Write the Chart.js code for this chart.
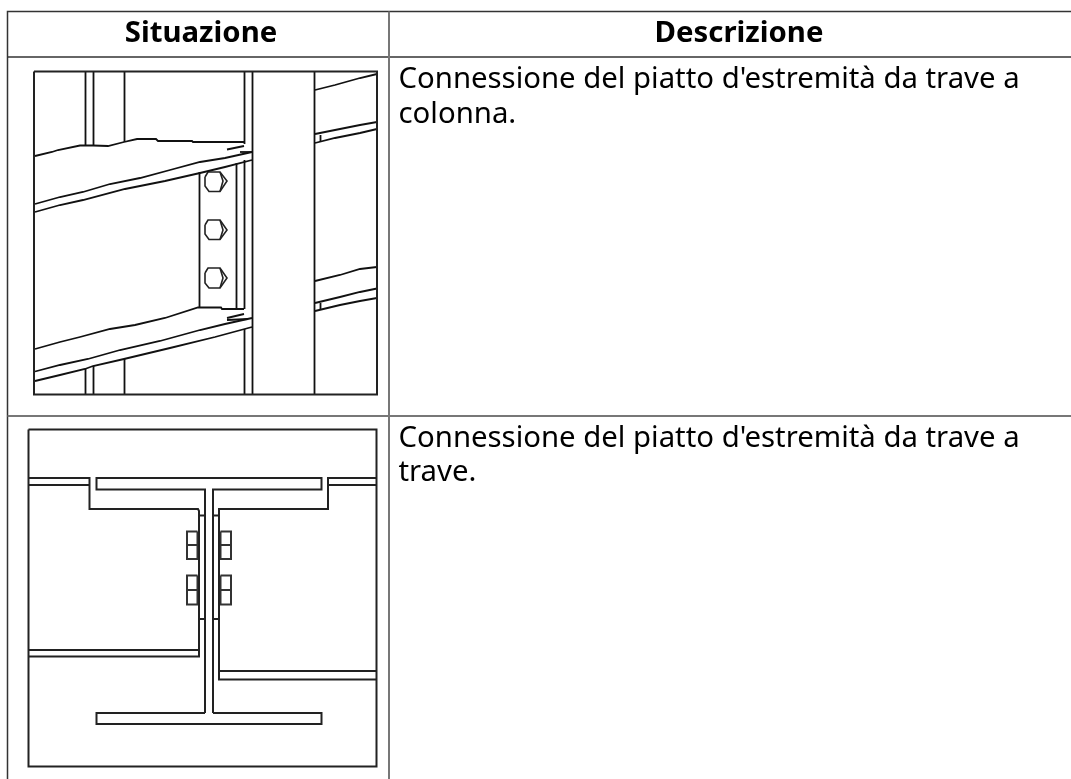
<!DOCTYPE html>
<html><head><meta charset="utf-8">
<style>html,body{margin:0;padding:0;background:#fff}#w{width:1071px;height:779px;position:relative}</style>
<script src="https://cdn.jsdelivr.net/npm/chart.js@4"></script></head>
<body><div id="w"><canvas id="c"></canvas></div>
<script>
// Table text
const headers = ["Situazione", "Descrizione"];
const row1Lines = ["Connessione del piatto d'estremità da trave a", "colonna."];
const row2Lines = ["Connessione del piatto d'estremità da trave a", "trave."];

// Table grid
const gridBlack = [
  [[7.5,779],[7.5,11.5],[1071,11.5]],
  [[7.5,57],[1071,57]]
];
const gridGrey = [
  [[389,11.5],[389,779]],
  [[7.5,416],[1071,416]]
];

// Drawing 1: beam to column
const d1Frame = [[34,71.5],[377,71.5],[377,394.5],[34,394.5],[34,71.5]];
const d1Verticals = [
  [[85.5,71.5],[85.5,145]], [[93.5,71.5],[93.5,146]], [[124.5,71.5],[124.5,142]],
  [[244.5,71.5],[244.5,144]], [[252.5,71.5],[252.5,394.5]], [[314.5,71.5],[314.5,394.5]],
  [[85.5,369],[85.5,394.5]], [[93.5,366],[93.5,394.5]], [[124.5,359],[124.5,394.5]],
  [[244.5,160],[244.5,309]], [[244.5,329],[244.5,394.5]],
  [[320.5,135],[320.5,142]], [[320.5,303],[320.5,310]]
];
const d1Upper = [
  [[35,156],[52,152],[58,150],[80,145.5],[93,145.5],[108,146],[124,142],[137,139],[156,139],[158,141],[192,141],[193,142],[244,142]],
  [[35,204],[60,197],[83,192],[110,184],[140,178],[170,170],[200,162],[225,158],[252,152]],
  [[35,212],[60,205],[83,200],[125,189],[165,181],[200,173],[225,167],[252,160]],
  [[227,149.5],[244,146]], [[240,152],[252,152]]
];
const d1Lower = [
  [[35,349],[60,342],[80,337],[110,329],[135,325],[165,318],[198,307.5],[221,307.5],[222,309],[244,309]],
  [[35,371.5],[60,365],[88,359],[120,350],[160,341],[200,330],[225,324],[252,318]],
  [[35,381],[60,375],[85,369],[93,366],[124,359],[170,348],[215,337],[252,327]],
  [[227,318],[244,314]], [[227,320],[248,319]]
];
const d1Right = [
  [[315,90],[335,85],[360,78],[377,74]], [[315,134],[335,130],[360,125],[377,122]], [[315,143],[335,138],[360,133],[377,129]],
  [[315,281],[340,275],[360,269],[377,267]], [[315,303],[340,297],[360,292],[377,288.5]], [[315,311],[340,305],[360,301],[377,298]]
];
const d1Plate = [[[199.5,172],[199.5,307.5]], [[236.5,163],[236.5,308]]];
const d1Bolts = [
  [[205,177],[208,172],[220,172],[227,181],[220,191.5],[209,191.5],[205,186],[205,177]],
  [[220,172],[223,181],[220,191.5]],
  [[205,225],[208,220],[220,220],[227,230],[220,239.5],[209,239.5],[205,234],[205,225]],
  [[220,220],[223,230],[220,239.5]],
  [[205,273],[208,268],[220,268],[227,278],[220,288],[209,288],[205,283],[205,273]],
  [[220,268],[223,278],[220,288]]
];

// Drawing 2: beam to beam
const d2Frame = [[28.5,429.5],[376.5,429.5],[376.5,766.5],[28.5,766.5],[28.5,429.5]];
const d2Section = [
  [[205,713],[205,489.5],[96.5,489.5],[96.5,478],[321.5,478],[321.5,489.5],[213,489.5],[213,713]],
  [[205,713],[96.5,713],[96.5,724],[321.5,724],[321.5,713],[213,713]]
];
const d2BeamLeft = [
  [[28.5,478],[89.5,478],[89.5,509],[198,509],[199,511],[199,656.5],[28.5,656.5]],
  [[28.5,485],[89.5,485]], [[28.5,650],[199,650]]
];
const d2BeamRight = [
  [[376.5,478],[328,478],[328,509],[219,509],[219,679.5],[376.5,679.5]],
  [[376.5,485],[328,485]], [[219,671],[376.5,671]]
];
const d2Ticks = [
  [[199,515.5],[205,515.5]], [[213,515.5],[219,515.5]],
  [[199,619],[205,619]], [[213,619],[219,619]]
];
const d2Bolts = [
  [[197.5,531.5],[187,531.5],[187,559],[197.5,559],[197.5,531.5]], [[187,545],[198,545]],
  [[197.5,575.5],[187,575.5],[187,604.5],[197.5,604.5],[197.5,575.5]], [[187,590],[198,590]],
  [[220.5,531.5],[231,531.5],[231,559],[220.5,559],[220.5,531.5]], [[220,545],[231,545]],
  [[220.5,575.5],[231,575.5],[231,604.5],[220.5,604.5],[220.5,575.5]], [[220,590],[231,590]]
];

const toPts = p => p.map(([x,y]) => ({x,y}));
const ds = (paths, color, w) => paths.map(p => ({
  data: toPts(p), showLine: true, borderColor: color, borderWidth: w,
  pointRadius: 0, pointHoverRadius: 0, tension: 0, fill: false
}));
const datasets = [
  ...ds(gridGrey, "#777", 2), ...ds(gridBlack, "#333", 1.5),
  ...ds([d1Frame], "#222", 2), ...ds(d1Verticals, "#111", 1.8), ...ds(d1Upper, "#111", 1.8),
  ...ds(d1Lower, "#111", 1.8), ...ds(d1Right, "#111", 1.8), ...ds(d1Plate, "#111", 1.8), ...ds(d1Bolts, "#222", 1.6),
  ...ds([d2Frame], "#222", 2), ...ds(d2Section, "#222", 2), ...ds(d2BeamLeft, "#222", 2),
  ...ds(d2BeamRight, "#222", 2), ...ds(d2Ticks, "#222", 2), ...ds(d2Bolts, "#333", 2)
];

const textPlugin = {
  id: "tableText",
  afterDatasetsDraw(chart) {
    const {ctx, scales:{x, y}} = chart;
    ctx.save();
    ctx.fillStyle = "#000";
    ctx.textBaseline = "alphabetic";
    ctx.font = "bold 29.33px 'Noto Sans'";
    ctx.textAlign = "center";
    ctx.fillText(headers[0], x.getPixelForValue(201), y.getPixelForValue(41.7));
    ctx.fillText(headers[1], x.getPixelForValue(739), y.getPixelForValue(41.7));
    ctx.font = "29.33px 'Noto Sans'";
    ctx.textAlign = "left";
    row1Lines.forEach((t,i) => ctx.fillText(t, x.getPixelForValue(398.5), y.getPixelForValue(88 + i*34.5)));
    row2Lines.forEach((t,i) => ctx.fillText(t, x.getPixelForValue(398.5), y.getPixelForValue(446.7 + i*34.5)));
    ctx.restore();
  }
};

new Chart(document.getElementById("c"), {
  type: "scatter",
  data: { datasets },
  plugins: [textPlugin],
  options: {
    responsive: true, maintainAspectRatio: false, animation: false,
    layout: { padding: 0 },
    plugins: { legend: {display:false}, tooltip: {enabled:false}, title: {display:false} },
    scales: {
      x: { type:"linear", min:0, max:1071, display:false },
      y: { type:"linear", min:0, max:779, reverse:true, display:false }
    }
  }
});
</script></body></html>
